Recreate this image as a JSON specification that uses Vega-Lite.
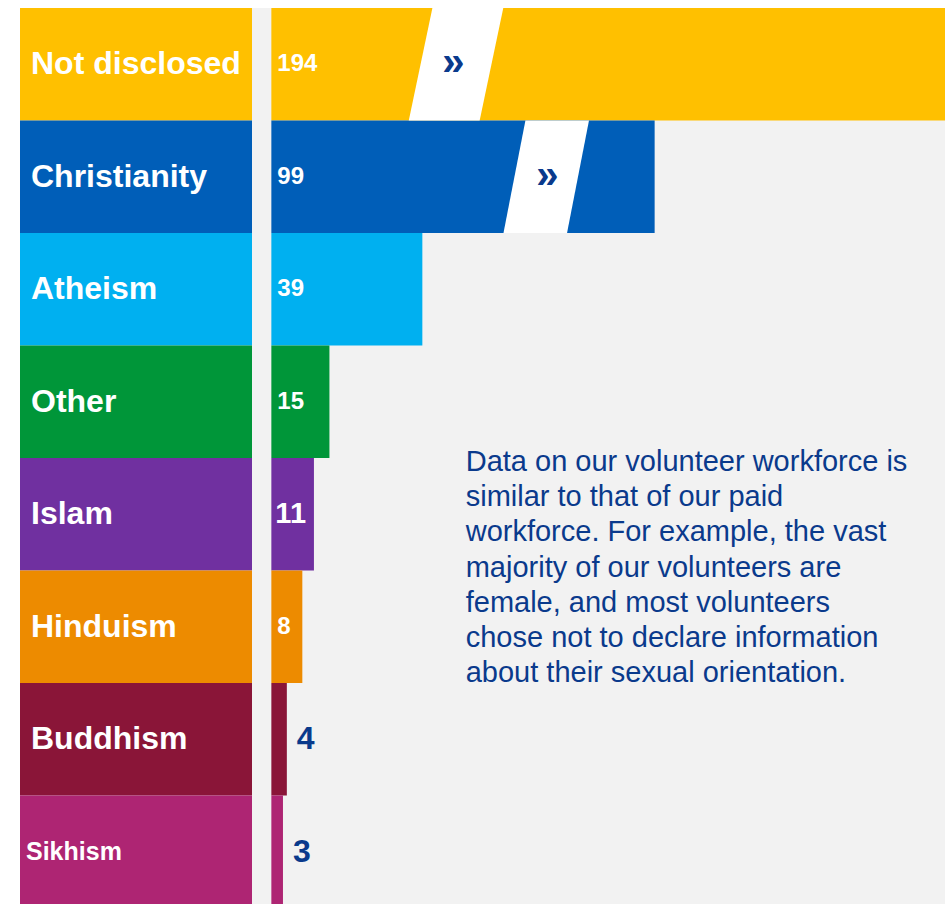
{
  "$schema": "https://vega.github.io/schema/vega-lite/v6.json",
  "background": "white",
  "padding": {"left": 20, "top": 8, "right": 0, "bottom": 0},
  "config": {
    "view": {"stroke": null, "fill": "#f2f2f2"},
    "font": "Liberation Sans",
    "text": {"font": "Liberation Sans"}
  },
  "data": {
    "values": [
      {"category": "Not disclosed", "value": 194},
      {"category": "Christianity", "value": 99},
      {"category": "Atheism", "value": 39},
      {"category": "Other", "value": 15},
      {"category": "Islam", "value": 11},
      {"category": "Hinduism", "value": 8},
      {"category": "Buddhism", "value": 4},
      {"category": "Sikhism", "value": 3}
    ]
  },
  "spacing": 0,
  "bounds": "flush",
  "hconcat": [
    {
      "width": 232,
      "height": 900,
      "encoding": {
        "y": {
          "field": "category", "type": "nominal", "sort": null, "axis": null,
          "scale": {"domain": ["Not disclosed", "Christianity", "Atheism", "Other", "Islam", "Hinduism", "Buddhism", "Sikhism"], "paddingInner": 0, "paddingOuter": 0}
        }
      },
      "layer": [
        {
          "mark": {"type": "rect"},
          "encoding": {
            "color": {
              "field": "category", "type": "nominal", "legend": null,
              "scale": {
                "domain": ["Not disclosed", "Christianity", "Atheism", "Other", "Islam", "Hinduism", "Buddhism", "Sikhism"],
                "range": ["#FFC000", "#005EB8", "#00B0F0", "#009639", "#7030A0", "#ED8B00", "#8A1538", "#AE2573"]
              }
            }
          }
        },
        {
          "transform": [{"filter": "datum.category !== 'Sikhism'"}],
          "mark": {"type": "text", "align": "left", "baseline": "middle", "fontWeight": "bold", "fontSize": 32, "color": "white"},
          "encoding": {
            "x": {"value": 11},
            "text": {"field": "category"}
          }
        },
        {
          "transform": [{"filter": "datum.category === 'Sikhism'"}],
          "mark": {"type": "text", "align": "left", "baseline": "middle", "fontWeight": "bold", "fontSize": 25, "color": "white"},
          "encoding": {
            "x": {"value": 6},
            "text": {"field": "category"}
          }
        }
      ]
    },
    {
      "width": 693,
      "height": 900,
      "encoding": {
        "y": {
          "field": "category", "type": "nominal", "sort": null, "axis": null,
          "scale": {"domain": ["Not disclosed", "Christianity", "Atheism", "Other", "Islam", "Hinduism", "Buddhism", "Sikhism"], "paddingInner": 0, "paddingOuter": 0}
        }
      },
      "layer": [
        {
          "mark": {"type": "bar"},
          "encoding": {
            "x": {"field": "value", "type": "quantitative", "axis": null, "scale": {"domain": [-5, 174], "clamp": true, "nice": false, "zero": false}},
            "color": {
              "field": "category", "type": "nominal", "legend": null,
              "scale": {
                "domain": ["Not disclosed", "Christianity", "Atheism", "Other", "Islam", "Hinduism", "Buddhism", "Sikhism"],
                "range": ["#FFC000", "#005EB8", "#00B0F0", "#009639", "#7030A0", "#ED8B00", "#8A1538", "#AE2573"]
              }
            }
          }
        },
        {
          "transform": [{"filter": "datum.category === 'Not disclosed'"}],
          "mark": {"type": "point", "shape": "M-0.42,-1L0.84,-1L0.42,1L-0.84,1Z", "filled": true, "color": "white", "opacity": 1, "strokeWidth": 0},
          "encoding": {
            "x": {"datum": 47.7, "type": "quantitative"},
            "size": {"value": 12656}
          }
        },
        {
          "transform": [{"filter": "datum.category === 'Christianity'"}],
          "mark": {"type": "point", "shape": "M-0.37,-1L0.76,-1L0.37,1L-0.76,1Z", "filled": true, "color": "white", "opacity": 1, "strokeWidth": 0},
          "encoding": {
            "x": {"datum": 71, "type": "quantitative"},
            "size": {"value": 12656}
          }
        },
        {
          "transform": [{"filter": "datum.category === 'Not disclosed'"}],
          "mark": {"type": "text", "text": "»", "fontWeight": "bold", "fontSize": 40, "color": "#0A3A8C", "align": "center", "baseline": "middle", "dy": -1},
          "encoding": {
            "x": {"datum": 47, "type": "quantitative"}
          }
        },
        {
          "transform": [{"filter": "datum.category === 'Christianity'"}],
          "mark": {"type": "text", "text": "»", "fontWeight": "bold", "fontSize": 40, "color": "#0A3A8C", "align": "center", "baseline": "middle", "dy": -1},
          "encoding": {
            "x": {"datum": 71.3, "type": "quantitative"}
          }
        },
        {
          "transform": [{"filter": "datum.value >= 8 && datum.value !== 11"}],
          "mark": {"type": "text", "align": "left", "baseline": "middle", "fontWeight": "bold", "color": "white", "dx": 6, "fontSize": 24},
          "encoding": {
            "x": {"datum": 0, "type": "quantitative"},
            "text": {"field": "value", "type": "quantitative"}
          }
        },
        {
          "transform": [{"filter": "datum.value === 11"}],
          "mark": {"type": "text", "align": "left", "baseline": "middle", "fontWeight": "bold", "color": "white", "dx": 4, "fontSize": 29},
          "encoding": {
            "x": {"datum": 0, "type": "quantitative"},
            "text": {"field": "value", "type": "quantitative"}
          }
        },
        {
          "transform": [{"filter": "datum.value < 8"}],
          "mark": {"type": "text", "align": "left", "baseline": "middle", "fontWeight": "bold", "color": "#0A3A8C", "dx": 10, "fontSize": 32},
          "encoding": {
            "x": {"field": "value", "type": "quantitative"},
            "text": {"field": "value", "type": "quantitative"}
          }
        },
        {
          "data": {"values": [{"note": "annotation"}]},
          "mark": {
            "type": "text",
            "align": "left",
            "baseline": "top",
            "fontSize": 29,
            "lineHeight": 35.2,
            "color": "#0A3A8C",
            "dy": -10,
            "text": [
              "Data on our volunteer workforce is",
              "similar to that of our paid",
              "workforce. For example, the vast",
              "majority of our volunteers are",
              "female, and most volunteers",
              "chose not to declare information",
              "about their sexual orientation."
            ]
          },
          "encoding": {
            "x": {"datum": 50.2, "type": "quantitative"},
            "y": {"datum": "Islam", "type": "nominal", "bandPosition": 0}
          }
        }
      ]
    }
  ]
}
